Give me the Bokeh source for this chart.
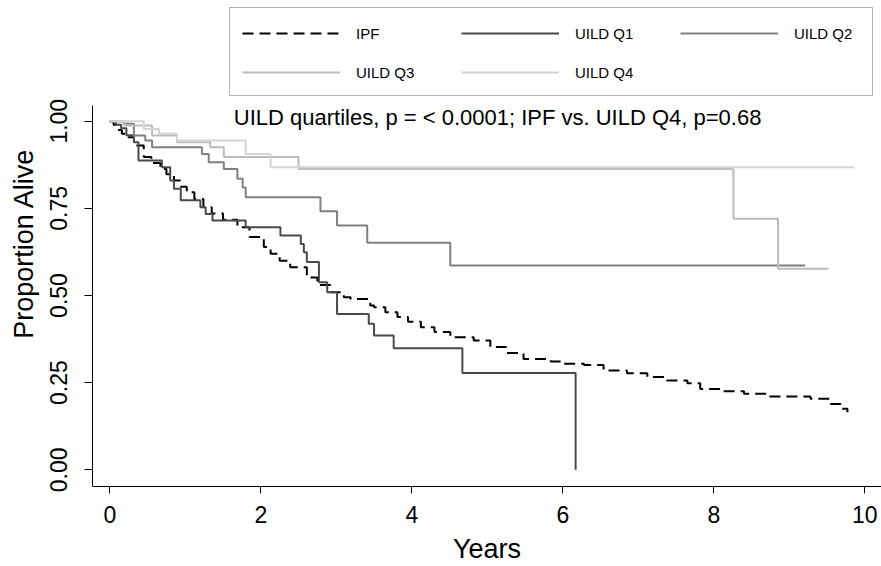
from bokeh.plotting import figure
from bokeh.models import (Range1d, FixedTicker, NumeralTickFormatter, Legend,
                          LegendItem, Label, BoxAnnotation)
from bokeh.embed import file_html
from bokeh.resources import INLINE

# ---- data ----
x_ticks = [0, 2, 4, 6, 8, 10]
y_ticks = [0.0, 0.25, 0.5, 0.75, 1.0]

ipf_t = [0, 0.05, 0.10, 0.16, 0.23, 0.32, 0.45, 0.55, 0.67, 0.75, 0.85, 0.93, 1.02,
         1.12, 1.24, 1.35, 1.50, 1.69, 1.85, 2.04, 2.13, 2.25, 2.39, 2.61, 2.75, 2.92,
         3.10, 3.19, 3.45, 3.50, 3.65, 3.81, 3.95, 4.12, 4.30, 4.51, 4.82, 5.04, 5.25,
         5.48, 5.84, 6.01, 6.28, 6.54, 6.85, 7.12, 7.38, 7.65, 7.82, 8.13, 8.40, 8.71,
         9.28, 9.55, 9.68, 9.77]
ipf_s = [1.0, 0.99, 0.975, 0.964, 0.954, 0.93, 0.897, 0.88, 0.863, 0.848, 0.83, 0.812, 0.796,
         0.777, 0.753, 0.735, 0.717, 0.696, 0.668, 0.639, 0.62, 0.60, 0.581, 0.552, 0.53, 0.509,
         0.495, 0.49, 0.471, 0.466, 0.452, 0.438, 0.425, 0.409, 0.395, 0.38, 0.371, 0.352, 0.335,
         0.318, 0.311, 0.304, 0.301, 0.285, 0.277, 0.266, 0.256, 0.248, 0.232, 0.225, 0.218, 0.21,
         0.204, 0.189, 0.175, 0.165]

q1_t = [0, 0.08, 0.15, 0.22, 0.32, 0.38, 0.69, 0.80, 0.85, 0.94, 1.20, 1.27, 1.36, 1.80,
        2.26, 2.53, 2.57, 2.61, 2.77, 2.88, 3.01, 3.43, 3.50, 3.76, 4.67, 6.17]
q1_s = [1.0, 0.99, 0.98, 0.96, 0.94, 0.887, 0.868, 0.830, 0.806, 0.773, 0.753, 0.734, 0.715,
        0.696, 0.672, 0.648, 0.624, 0.596, 0.538, 0.509, 0.447, 0.419, 0.385, 0.349, 0.278, 0.0]

q2_t = [0, 0.18, 0.32, 0.47, 0.56, 1.22, 1.31, 1.51, 1.69, 1.76, 1.80, 2.79, 3.01, 3.41, 4.51, 9.21]
q2_s = [1.0, 0.993, 0.959, 0.945, 0.925, 0.906, 0.882, 0.863, 0.835, 0.81, 0.782, 0.742, 0.701,
        0.651, 0.586, 0.586]

q3_t = [0, 0.19, 0.56, 0.89, 1.33, 1.51, 2.50, 8.26, 8.85, 9.52]
q3_s = [1.0, 0.988, 0.959, 0.940, 0.925, 0.897, 0.863, 0.72, 0.577, 0.577]

q4_t = [0, 0.45, 0.65, 0.89, 1.80, 2.13, 9.86]
q4_s = [1.0, 0.978, 0.964, 0.945, 0.906, 0.868, 0.868]

series_names = ["IPF", "UILD Q1", "UILD Q2", "UILD Q3", "UILD Q4"]
title_text = "UILD quartiles, p = < 0.0001; IPF vs. UILD Q4, p=0.68"

FONT = "Liberation Sans"
Y_AXIS_BOUNDS = (-0.0479, 1.045)

p = figure(width=881, height=566, output_backend="svg", toolbar_location=None,
           x_range=Range1d(-0.229, 10.221), y_range=Range1d(-0.0479, 1.3463),
           min_border_left=92, min_border_right=0, min_border_top=0,
           min_border_bottom=80)
p.outline_line_color = None
p.grid.visible = False
p.background_fill_color = "white"
p.border_fill_color = "white"

r_ipf = p.step(ipf_t, ipf_s, mode="after", line_color="black", line_width=2,
               line_dash="11 6")
r_q1 = p.step(q1_t, q1_s, mode="after", line_color="#4a4a4a", line_width=2)
r_q2 = p.step(q2_t, q2_s, mode="after", line_color="#808080", line_width=2)
r_q3 = p.step(q3_t, q3_s, mode="after", line_color="#bcbcbc", line_width=2)
r_q4 = p.step(q4_t, q4_s, mode="after", line_color="#d4d4d4", line_width=2)

for ax in (p.xaxis[0], p.yaxis[0]):
    ax.axis_line_color = "black"
    ax.axis_line_width = 1
    ax.major_tick_line_color = "black"
    ax.major_tick_in = 0
    ax.minor_tick_line_color = None
    ax.major_label_text_font = FONT
    ax.major_label_text_font_size = "23px"
    ax.major_label_text_color = "black"
    ax.axis_label_text_font = FONT
    ax.axis_label_text_font_size = "27px"
    ax.axis_label_text_font_style = "normal"
    ax.axis_label_text_color = "black"

p.xaxis.ticker = FixedTicker(ticks=x_ticks)
p.yaxis.ticker = FixedTicker(ticks=y_ticks)
p.yaxis.bounds = Y_AXIS_BOUNDS
p.yaxis.formatter = NumeralTickFormatter(format="0.00")
p.yaxis.major_label_orientation = "vertical"
p.xaxis.major_tick_out = 7
p.yaxis.major_tick_out = 8
p.xaxis.major_label_standoff = 12
p.yaxis.major_label_standoff = 17
p.xaxis.axis_label = "Years"
p.yaxis.axis_label = "Proportion Alive"
p.xaxis.axis_label_standoff = 8
p.yaxis.axis_label_standoff = 9

p.add_layout(Label(x=1.642, y=1.0106, text=title_text, text_font=FONT,
                   text_font_size="22px", text_baseline="middle", text_align="left",
                   text_color="black"))

items = [LegendItem(label=n, renderers=[r]) for n, r in
         zip(series_names, [r_ipf, r_q1, r_q2, r_q3, r_q4])]
legend = Legend(items=items, orientation="horizontal", ncols=3, location=(150, 404),
                glyph_width=98, glyph_height=20, label_height=20, label_width=86,
                label_standoff=16, spacing=19, padding=0, margin=0,
                border_line_alpha=0, background_fill_alpha=0,
                label_text_font=FONT, label_text_font_size="15px",
                label_text_color="black")
p.add_layout(legend, "center")

# frame of the legend
p.add_layout(BoxAnnotation(left=1.5854, right=10.102, top=1.3262, bottom=1.0737,
                           fill_alpha=0, line_color="black", line_width=1))

open("out.html", "w").write(file_html(p, INLINE))
